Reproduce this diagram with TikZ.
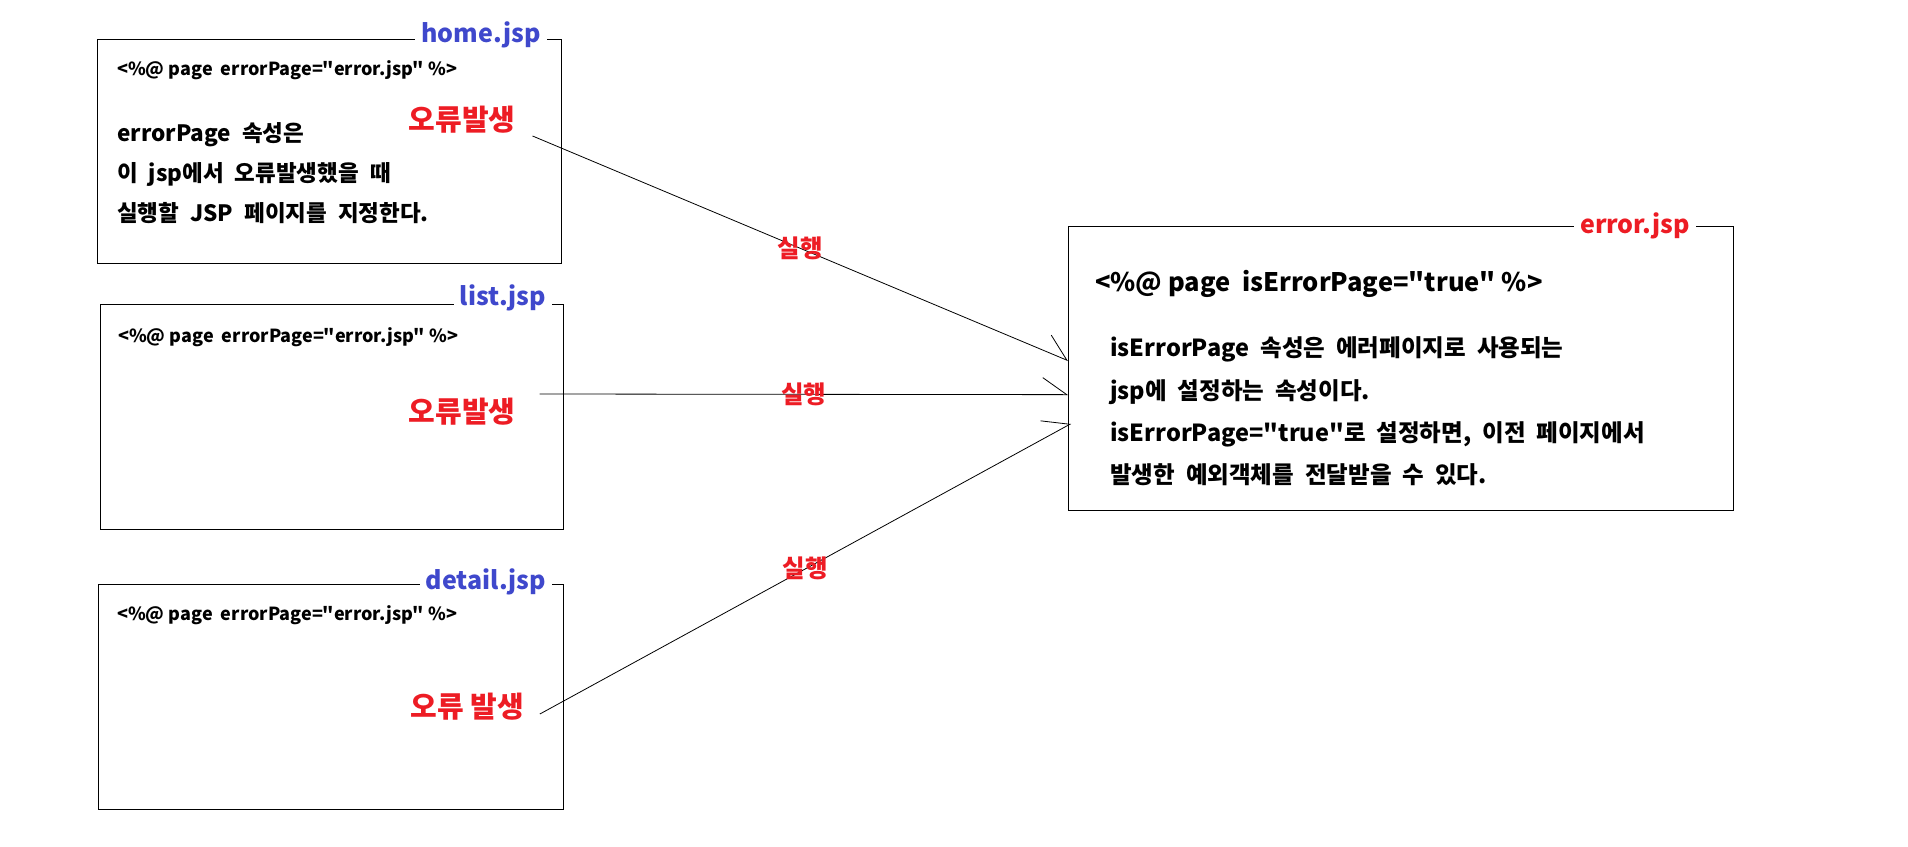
\documentclass[tikz,border=0pt]{standalone}
\usepackage{fontspec}
\setmainfont{Noto Sans CJK KR}[Ligatures=TeXOff]
\usetikzlibrary{arrows.meta,positioning}
\definecolor{jspblue}{HTML}{3F48CC}
\definecolor{errred}{HTML}{ED1C24}
\newcommand{\widegap}{\spaceskip=11pt plus 2pt\relax}

\begin{document}
\begin{tikzpicture}[
    x=1pt, y=-1pt,
    page/.style={rectangle, draw=black, line width=1.3pt, anchor=north west, inner sep=0pt},
    pagename/.style={fill=white, text=jspblue, inner xsep=6pt, inner ysep=0pt,
                     font=\fontsize{25}{30}\selectfont\bfseries},
    code/.style={anchor=west, inner sep=0pt, font=\fontsize{18}{21}\selectfont\bfseries},
    note/.style={anchor=west, inner sep=0pt, align=left},
    occur/.style={text=errred, inner sep=0pt, font=\fontsize{29}{34}\selectfont\bfseries},
    run/.style={text=errred, inner sep=0pt, font=\fontsize{24.5}{28}\selectfont\bfseries},
    arrow/.style={-{Straight Barb[left, length=24pt, width=34pt]}, line width=0.8pt}
]
\useasboundingbox (0,0) rectangle (1908,846);

% home.jsp
\node[page, minimum width=464pt, minimum height=224pt] (home) at (97,39) {};
\node[pagename] (homename) at (481,35) {home.jsp};
\node[code] (homecode) at (117,70) {<\%@ page\ \ errorPage="error.jsp" \%>};
\node[note, font=\fontsize{22.5}{40}\selectfont\bfseries\widegap] (homenote) at (117,173)
    {errorPage 속성은\\이 jsp에서 오류발생했을 때\\실행할 JSP 페이지를 지정한다.};
\node[occur] (homeerr) at (462,120) {오류발생};

% list.jsp
\node[page, minimum width=463pt, minimum height=225pt] (list) at (100,304) {};
\node[pagename] (listname) at (503,298) {list.jsp};
\node[code] (listcode) at (118,337) {<\%@ page\ \ errorPage="error.jsp" \%>};
\node[occur] (listerr) at (462,412) {오류발생};

% detail.jsp
\node[page, minimum width=465pt, minimum height=225pt] (detail) at (98,584) {};
\node[pagename] (detailname) at (486,582) {detail.jsp};
\node[code] (detailcode) at (117,615) {<\%@ page\ \ errorPage="error.jsp" \%>};
\node[occur] (detailerr) at (467,707) {오류 발생};

% error.jsp
\node[page, minimum width=665pt, minimum height=284pt] (error) at (1068,226) {};
\node[pagename, text=errred] (errorname) at (1635,226) {error.jsp};
\node[code, font=\fontsize{25.5}{30}\selectfont\bfseries] (errorcode) at (1095,284)
    {<\%@ page\ \ isErrorPage="true" \%>};
\node[note, font=\fontsize{23.5}{42.3}\selectfont\bfseries\widegap] (errornote) at (1110,411.5)
    {isErrorPage 속성은 에러페이지로 사용되는\\jsp에 설정하는 속성이다.\\
     isErrorPage="true"로 설정하면, 이전 페이지에서\\발생한 예외객체를 전달받을 수 있다.};

% arrows to error.jsp
\draw[arrow] ([xshift=17pt, yshift=-16pt]homeerr.east) -- node[run] {실행} ([yshift=8pt]error.west);
\draw[arrow] ([xshift=24pt, yshift=18pt]listerr.east) -- node[run] {실행} ([yshift=-26pt]error.west);
\draw[arrow] ([xshift=16pt, yshift=-7pt]detailerr.east) -- node[run] {실행} ([xshift=3pt, yshift=-55pt]error.west);

\end{tikzpicture}
\end{document}
